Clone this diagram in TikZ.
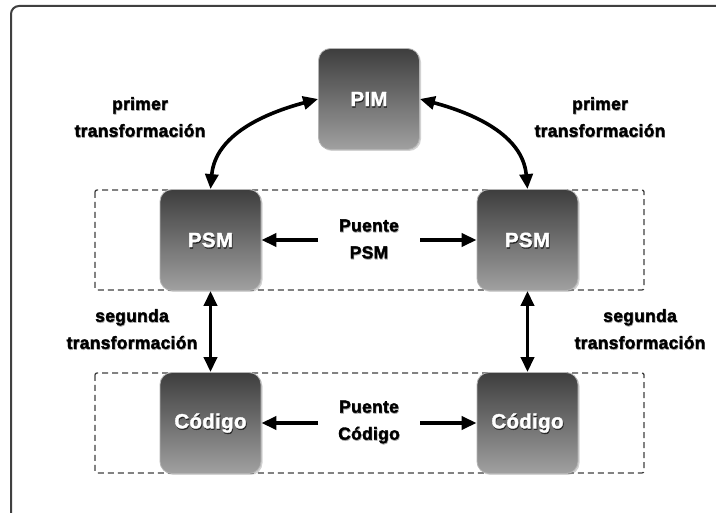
\documentclass[tikz,border=0pt]{standalone}
\usepackage{fontspec}
\setmainfont{Liberation Sans}
\newfontfamily\heavyfont{Liberation Sans}[BoldFeatures={FakeBold=1.8}, LetterSpace=1.5]
\usetikzlibrary{arrows.meta,shadows}
\definecolor{frame}{HTML}{404040}
\definecolor{boxtop}{HTML}{3E3E3E}
\definecolor{boxbot}{HTML}{A0A0A0}
\definecolor{boxrim}{HTML}{B4B4B4}
\tikzset{
  model/.style={rounded corners=12pt, minimum width=101pt, minimum height=101pt,
    top color=boxtop, bottom color=boxbot, draw=boxrim, line width=0.8pt,
    drop shadow={shadow xshift=1.5pt, shadow yshift=-1.5pt, opacity=0.35},
    inner sep=0pt},
  modeltext/.style={font=\heavyfont\bfseries\fontsize{20.5}{22}\selectfont, text=white},
  caption/.style={font=\heavyfont\bfseries\fontsize{17.5}{27}\selectfont, align=center, inner sep=0pt},
  group/.style={draw=black!75, dashed, dash pattern=on 6pt off 4pt, line width=1.3pt, rounded corners=2pt},
  link/.style={line width=3.6pt, {Triangle[length=15pt,width=13pt]}-{Triangle[length=15pt,width=13pt]}},
  oneway/.style={line width=3.6pt, -{Triangle[length=15pt,width=13pt]}},
}
% white lettering with a dark shadow
\newcommand{\boxlabel}[1]{%
  \makebox[0pt]{\raisebox{-1.3pt}[0pt][0pt]{\hspace{1.3pt}\textcolor{black!85}{#1}}}%
  \makebox[0pt]{#1}}
% black lettering with a soft grey shadow
\newcommand{\softlabel}[1]{%
  \makebox[0pt]{\raisebox{-1pt}[0pt][0pt]{\hspace{1pt}\textcolor{black!35}{#1}}}%
  \makebox[0pt]{#1}}
\begin{document}
\begin{tikzpicture}[x=1pt,y=-1pt]
  \useasboundingbox (0,0) rectangle (716,513);
  \fill[white] (0,0) rectangle (716,513);

  % outer frame, running off the right and bottom edges
  \begin{scope}
    \clip (0,0) rectangle (716,513);
    \draw[frame, line width=2pt, rounded corners=8pt] (11,6) rectangle (740,540);
  \end{scope}

  % dashed groups
  \draw[group] (95,190) rectangle (644,290);
  \draw[group] (95,373) rectangle (644,473);

  % models
  \node[model] (pim) at (369,99) {};
  \node[model] (psmL) at (210.5,240) {};
  \node[model] (psmR) at (527.5,240) {};
  \node[model] (codL) at (210.5,423) {};
  \node[model] (codR) at (527.5,423) {};
  \node[modeltext] at (pim) {\boxlabel{PIM}};
  \node[modeltext] at (psmL) {\boxlabel{PSM}};
  \node[modeltext] at (psmR) {\boxlabel{PSM}};
  \node[modeltext] at (codL) {\boxlabel{Código}};
  \node[modeltext] at (codR) {\boxlabel{Código}};

  % captions
  \node[caption] (t1L) at (140,117) {\softlabel{primer}\\\softlabel{transformación}};
  \node[caption] (t1R) at (600,117) {\softlabel{primer}\\\softlabel{transformación}};
  \node[caption] (t2L) at (132,329) {\softlabel{segunda}\\\softlabel{transformación}};
  \node[caption] (t2R) at (640,329) {\softlabel{segunda}\\\softlabel{transformación}};
  \node[caption] (bPSM) at (369,239) {\softlabel{Puente}\\\softlabel{PSM}};
  \node[caption] (bCod) at (369,422) {\softlabel{Puente}\\\softlabel{Código}};

  % first transformation
  \draw[link] (pim.west) to[out=195,in=85] (psmL.north);
  \draw[link] (pim.east) to[out=-15,in=95] (psmR.north);

  % second transformation
  \draw[link] (psmL.south) -- (codL.north);
  \draw[link] (psmR.south) -- (codR.north);

  % bridges
  \coordinate (bPSMl) at (318,240);
  \coordinate (bPSMr) at (420,240);
  \coordinate (bCodl) at (318,423);
  \coordinate (bCodr) at (420,423);
  \draw[oneway] (bPSMl) -- (psmL.east);
  \draw[oneway] (bPSMr) -- (psmR.west);
  \draw[oneway] (bCodl) -- (codL.east);
  \draw[oneway] (bCodr) -- (codR.west);
\end{tikzpicture}
\end{document}
